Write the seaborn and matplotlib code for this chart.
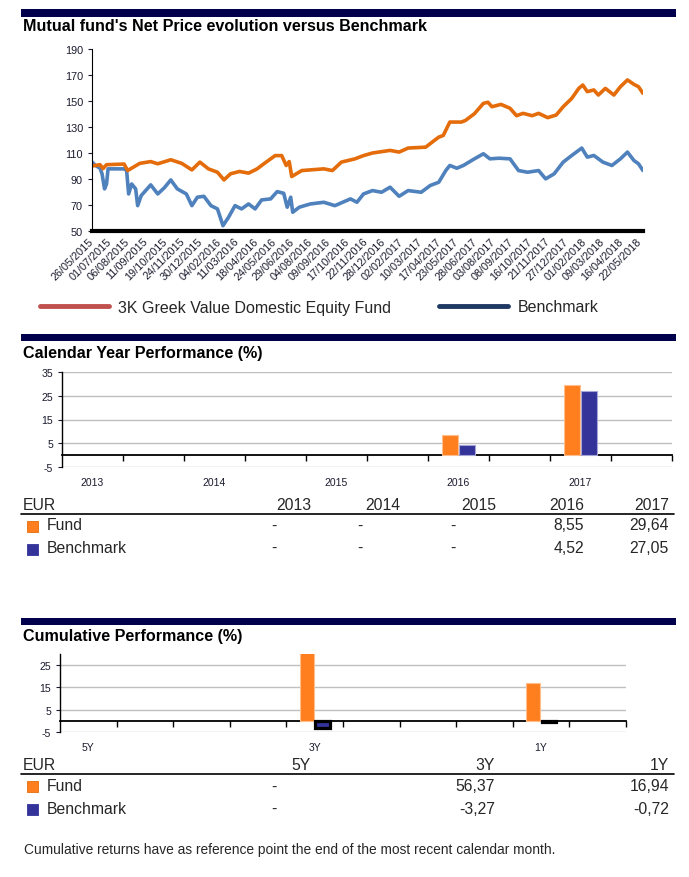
import matplotlib
matplotlib.use("Agg")
import matplotlib.pyplot as plt
from matplotlib.patches import Rectangle
from matplotlib.lines import Line2D
import numpy as np
import pandas as pd
import seaborn as sns

# ---- values ----
fund_dates = ["2015-05-26", "2015-06-11", "2015-06-17", "2015-06-24", "2015-07-29", "2015-08-05",
              "2015-08-16", "2015-08-29", "2015-09-20", "2015-10-04", "2015-10-30", "2015-11-21",
              "2015-12-11", "2015-12-27", "2016-01-13", "2016-01-31", "2016-02-13", "2016-02-26",
              "2016-03-15", "2016-04-02", "2016-04-19", "2016-05-07", "2016-05-25", "2016-06-07",
              "2016-06-16", "2016-06-22", "2016-06-27", "2016-07-17", "2016-08-03", "2016-08-30",
              "2016-09-16", "2016-10-04", "2016-10-31", "2016-11-17", "2016-12-05", "2017-01-09",
              "2017-01-27", "2017-02-14", "2017-03-21", "2017-04-03", "2017-04-16", "2017-04-25",
              "2017-05-08", "2017-05-31", "2017-06-08", "2017-06-26", "2017-07-14", "2017-07-23",
              "2017-07-31", "2017-08-18", "2017-09-05", "2017-09-18", "2017-10-01", "2017-10-19",
              "2017-11-01", "2017-11-19", "2017-12-06", "2017-12-20", "2018-01-06", "2018-01-20",
              "2018-01-28", "2018-02-06", "2018-02-19", "2018-02-28", "2018-03-14", "2018-03-31",
              "2018-04-13", "2018-04-27", "2018-05-10", "2018-05-19", "2018-05-28"]
fund_values = [100.0, 101.0, 98.0, 101.0, 101.5, 96.5,
               99.0, 102.0, 103.4, 101.7, 104.8, 102.0,
               97.0, 103.0, 97.8, 95.2, 89.3, 94.0,
               95.8, 94.5, 97.8, 103.0, 108.0, 108.0,
               100.4, 103.4, 91.9, 96.5, 97.0, 97.8,
               96.5, 103.0, 105.5, 108.0, 110.0, 112.0,
               110.7, 113.8, 114.5, 118.4, 122.2, 123.5,
               133.8, 133.8, 135.0, 140.2, 148.2, 149.0,
               145.6, 147.4, 144.4, 138.7, 140.5, 138.7,
               140.5, 137.2, 139.2, 145.6, 152.0, 159.7,
               162.3, 157.2, 158.5, 154.6, 159.7, 154.6,
               161.0, 166.2, 162.8, 161.0, 155.9]

bench_dates = ["2015-05-26", "2015-06-02", "2015-06-11", "2015-06-15", "2015-06-20", "2015-06-24",
               "2015-06-27", "2015-07-29", "2015-08-03", "2015-08-07", "2015-08-13", "2015-08-21",
               "2015-08-25", "2015-09-01", "2015-09-20", "2015-10-04", "2015-10-17", "2015-10-30",
               "2015-11-12", "2015-11-30", "2015-12-11", "2015-12-22", "2016-01-04", "2016-01-18",
               "2016-01-31", "2016-02-11", "2016-02-22", "2016-03-06", "2016-03-19", "2016-04-02",
               "2016-04-15", "2016-04-28", "2016-05-16", "2016-05-29", "2016-06-11", "2016-06-18",
               "2016-06-25", "2016-06-29", "2016-07-12", "2016-08-03", "2016-08-30", "2016-09-21",
               "2016-10-22", "2016-11-04", "2016-11-17", "2016-12-05", "2016-12-23", "2017-01-09",
               "2017-01-27", "2017-02-14", "2017-03-12", "2017-03-30", "2017-04-16", "2017-04-30",
               "2017-05-08", "2017-05-22", "2017-06-04", "2017-06-26", "2017-07-14", "2017-07-27",
               "2017-08-14", "2017-09-05", "2017-09-22", "2017-10-10", "2017-11-01", "2017-11-15",
               "2017-12-02", "2017-12-20", "2018-01-06", "2018-01-26", "2018-02-06", "2018-02-19",
               "2018-03-09", "2018-03-27", "2018-04-13", "2018-04-27", "2018-05-10", "2018-05-19",
               "2018-05-28"]
bench_values = [103.0, 100.4, 98.3, 94.0, 82.4, 86.2,
                97.8, 97.8, 96.5, 78.5, 86.2, 82.4,
                69.5, 77.2, 85.5, 78.5, 83.2, 89.3,
                82.4, 78.5, 69.5, 76.0, 76.7, 69.5,
                67.0, 54.1, 60.5, 69.5, 67.0, 70.8,
                67.0, 73.9, 74.7, 80.3, 79.0, 68.3,
                76.0, 64.4, 68.3, 70.8, 72.1, 69.5,
                74.7, 72.1, 78.5, 81.1, 79.8, 83.7,
                76.7, 81.1, 79.8, 85.0, 87.5, 96.5,
                100.4, 98.3, 100.4, 105.5, 109.4, 105.5,
                106.0, 105.5, 96.5, 95.2, 96.5, 90.1,
                94.0, 103.0, 108.1, 113.8, 106.8, 108.1,
                103.0, 100.4, 105.5, 110.7, 104.2, 101.7,
                96.5]

tick_dates = ["26/05/2015", "01/07/2015", "06/08/2015", "11/09/2015", "19/10/2015", "24/11/2015",
              "30/12/2015", "04/02/2016", "11/03/2016", "18/04/2016", "24/05/2016", "29/06/2016",
              "04/08/2016", "09/09/2016", "17/10/2016", "22/11/2016", "28/12/2016", "02/02/2017",
              "10/03/2017", "17/04/2017", "23/05/2017", "28/06/2017", "03/08/2017", "08/09/2017",
              "16/10/2017", "21/11/2017", "27/12/2017", "01/02/2018", "09/03/2018", "16/04/2018",
              "22/05/2018"]

fund_name = "3K Greek Value Domestic Equity Fund"
bench_name = "Benchmark"

cal_years = ["2013", "2014", "2015", "2016", "2017"]
cal_fund = [np.nan, np.nan, np.nan, 8.55, 29.64]
cal_bench = [np.nan, np.nan, np.nan, 4.52, 27.05]

cum_periods = ["5Y", "3Y", "1Y"]
cum_fund = [np.nan, 56.37, 16.94]
cum_bench = [np.nan, -3.27, -0.72]

# ---- styling ----
sns.set_style("white")
plt.rcParams['font.family'] = ['Liberation Sans', 'DejaVu Sans']
plt.rcParams['axes.unicode_minus'] = False

W, H = 689, 878
NAVY = "#00004D"
TXT = "#1A1A2E"
ORANGE_BAR = "#FF7F1E"
BLUE_BAR = "#333399"


def box(l, t, r, b):
    return [l / W, 1 - b / H, (r - l) / W, (b - t) / H]


def fx(x):
    return x / W


def fy(y):
    return 1 - y / H


fig = plt.figure(figsize=(W / 100, H / 100), dpi=100)

# navy header bars + titles
for top, bot in [(10, 17.5), (335, 342), (618.5, 626)]:
    fig.add_artist(Rectangle((fx(21), fy(bot)), (676 - 21) / W, (bot - top) / H,
                             transform=fig.transFigure, color=NAVY, lw=0))
titles = [("Mutual fund's Net Price evolution versus Benchmark", 26.5),
          ("Calendar Year Performance (%)", 354),
          ("Cumulative Performance (%)", 636)]
for s, y in titles:
    fig.text(fx(23), fy(y), s, fontsize=11.6, fontweight="bold", va="center", color="black")

# ---- line chart ----
ax1 = fig.add_axes(box(92, 50, 643, 232))
lines = pd.concat([
    pd.DataFrame({"date": pd.to_datetime(bench_dates), "value": bench_values, "series": "Benchmark"}),
    pd.DataFrame({"date": pd.to_datetime(fund_dates), "value": fund_values, "series": "Fund"}),
])
sns.lineplot(data=lines, x="date", y="value", hue="series", hue_order=["Benchmark", "Fund"],
             palette={"Benchmark": "#4F81BD", "Fund": "#E46C0A"}, linewidth=2.6,
             estimator=None, legend=False, ax=ax1)
ax1.set_ylim(50, 190)
ax1.set_yticks(range(50, 191, 20))
ax1.set_xlim(pd.Timestamp(fund_dates[0]), pd.Timestamp(fund_dates[-1]))
ax1.set_xticks(pd.to_datetime(tick_dates, format="%d/%m/%Y"))
ax1.set_xticklabels(tick_dates, rotation=45, ha="right", va="center", rotation_mode="anchor")
ax1.tick_params(axis="x", length=0, pad=6, labelsize=7.8, colors=TXT)
ax1.tick_params(axis="y", length=3, width=0.8, direction="out", labelsize=7.8, colors=TXT, left=True)
ax1.set_xlabel("")
ax1.set_ylabel("")
for side in ["top", "right"]:
    ax1.spines[side].set_visible(False)
ax1.spines["left"].set_color("black")
ax1.spines["left"].set_linewidth(0.8)
ax1.spines["bottom"].set_color("black")
ax1.spines["bottom"].set_linewidth(3)

handles = [Line2D([], [], color="#C0504D", lw=3.5), Line2D([], [], color="#1F3864", lw=3.5)]
fig.legend(handles, [fund_name, bench_name], loc="center left", bbox_to_anchor=(fx(40), fy(308)),
           ncol=2, frameon=False, fontsize=11.5, handlelength=4.3, handletextpad=0.6,
           columnspacing=3.0, borderpad=0, borderaxespad=0)


# ---- bar charts (10 sub-slots, categories every `step` sub-slots) ----
def bar_chart(ax, cats, fund, bench, ylim, yticks, step, bench_edge, bench_lw):
    df = pd.DataFrame({"cat": cats * 2,
                       "series": ["Fund"] * len(cats) + ["Benchmark"] * len(cats),
                       "value": fund + bench})
    sub = 1 / step  # width of one sub-slot in category units
    sns.barplot(data=df, x="cat", y="value", hue="series", order=cats,
                hue_order=["Fund", "Benchmark"],
                palette={"Fund": ORANGE_BAR, "Benchmark": BLUE_BAR}, saturation=1,
                width=sub * 0.56, gap=0.1, errorbar=None, legend=False, ax=ax)
    for p in ax.containers[0]:
        p.set_edgecolor("#FFBE8C")
        p.set_linewidth(0.8)
    for p in ax.containers[1]:
        p.set_edgecolor(bench_edge)
        p.set_linewidth(bench_lw)
    lo = -sub / 2
    hi = lo + 10 * sub
    ax.set_xlim(lo, hi)
    ax.set_ylim(*ylim)
    ax.set_yticks(yticks)
    ax.yaxis.grid(True, color="#BFBFBF", lw=1)
    ax.set_axisbelow(True)
    ax.set_xlabel("")
    ax.set_ylabel("")
    for side in ["top", "right", "bottom"]:
        ax.spines[side].set_visible(False)
    ax.spines["left"].set_color("black")
    ax.spines["left"].set_linewidth(1)
    ax.tick_params(axis="x", length=0, pad=7, labelsize=7.5, colors=TXT)
    ax.tick_params(axis="y", length=3, width=0.8, direction="out", labelsize=7.6,
                   colors=TXT, left=True)
    # zero line with sub-slot ticks
    zero = ax.secondary_xaxis((0 - ylim[0]) / (ylim[1] - ylim[0]))
    zero.set_xticks(lo + sub * np.arange(1, 11))
    zero.tick_params(direction="out", length=4, width=1, labelbottom=False, color="black")
    zero.spines["bottom"].set_linewidth(1.3)
    zero.spines["bottom"].set_color("black")


ax2 = fig.add_axes(box(62, 372.7, 672, 468.3))
bar_chart(ax2, cal_years, cal_fund, cal_bench, (-5, 35), [-5, 5, 15, 25, 35], 2, "#A5A5D8", 0.8)

ax3 = fig.add_axes(box(60, 655, 626, 733))
bar_chart(ax3, cum_periods, cum_fund, cum_bench, (-5, 30), [-5, 5, 15, 25], 4, "black", 2.3)


# ---- tables ----
def fmt(v):
    return "-" if np.isnan(v) else f"{v:.2f}".replace(".", ",")


def table(headers, fund, bench, right_x, dash_x, y_head, y_line, y_rows, y_sq):
    fs = 11.3
    fig.text(fx(23), fy(y_head), "EUR", fontsize=fs, va="baseline")
    for h, x in zip(headers, right_x):
        fig.text(fx(x), fy(y_head), h, fontsize=fs, va="baseline", ha="right")
    fig.add_artist(Line2D([fx(21), fx(674)], [fy(y_line), fy(y_line)], color="black", lw=1.2,
                          transform=fig.transFigure))
    rows = [("Fund", fund, ORANGE_BAR, "#E46C0A"), ("Benchmark", bench, BLUE_BAR, BLUE_BAR)]
    for (name, vals, col, edge), y, ysq in zip(rows, y_rows, y_sq):
        fig.add_artist(Rectangle((fx(27), fy(ysq + 5.5)), 11 / W, 11 / H, transform=fig.transFigure,
                                 facecolor=col, edgecolor=edge, lw=0.6))
        fig.text(fx(47), fy(y), name, fontsize=fs, va="baseline")
        for v, xr, xd in zip(vals, right_x, dash_x):
            if np.isnan(v):
                fig.text(fx(xd), fy(y), "-", fontsize=fs, va="baseline", ha="center")
            else:
                fig.text(fx(xr), fy(y), fmt(v), fontsize=fs, va="baseline", ha="right")


table(cal_years, cal_fund, cal_bench, [311, 400, 496, 584, 669], [274, 360, 453, 540, 625],
      510, 515, [530.5, 553], [527.5, 550.5])
table(cum_periods, cum_fund, cum_bench, [311, 495, 669], [274, 453, 625],
      770, 774.5, [791.5, 814], [787.5, 810.5])

fig.text(fx(24), fy(854), "Cumulative returns have as reference point the end of the most recent calendar month.",
         fontsize=9.9, va="baseline")

plt.savefig("out.png", dpi=100)
